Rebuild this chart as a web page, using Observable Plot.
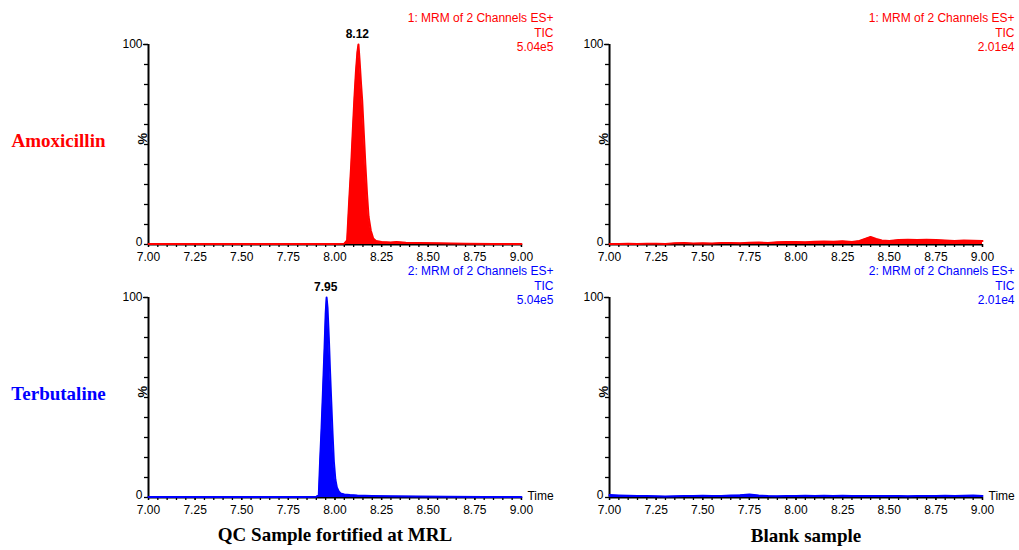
<!DOCTYPE html>
<html><head><meta charset="utf-8">
<script src="https://cdn.jsdelivr.net/npm/d3@7"></script>
<script src="https://cdn.jsdelivr.net/npm/@observablehq/plot@0.6"></script>
<style>html,body{margin:0;padding:0;background:#fff}#chart{width:1019px;height:550px}</style>
</head><body><div id="chart"></div>
<script>
// ---- categories & labels ----
const samples = ["QC Sample fortified at MRL", "Blank sample"];
const compounds = ["Amoxicillin", "Terbutaline"];
const compoundColors = ["#ff0000", "#0000ff"];
const channelLabels = ["1: MRM of 2 Channels ES+", "2: MRM of 2 Channels ES+"];
const ticLabel = "TIC";
const intensityLabels = ["5.04e5", "2.01e4"];   // per sample
const peakTimes = [8.12, 7.95];                  // per compound (QC sample)
const xMajorTicks = [7, 7.25, 7.5, 7.75, 8, 8.25, 8.5, 8.75, 9];
const yLabelTicks = [0, 100];
const yAxisSymbol = "%";
const xAxisTitle = "Time";

// ---- series (retention time, relative intensity %) ----
const qcAmoxTime  = [7.00, 7.25, 7.50, 7.75, 7.90, 8.00, 8.05, 8.065, 8.075, 8.087, 8.096, 8.104, 8.112, 8.120, 8.126, 8.132, 8.140, 8.146, 8.155, 8.163, 8.172, 8.180, 8.192, 8.205, 8.22, 8.25, 8.30, 8.33, 8.38, 8.45, 8.55, 8.70, 8.85, 9.00];
const qcAmoxValue = [0.3, 0.3, 0.3, 0.3, 0.3, 0.3, 0.4, 2, 20, 40, 58, 73, 86, 96, 100, 92, 80, 72, 55, 40, 25, 14, 7, 3, 1.8, 1.2, 1.0, 1.3, 0.9, 0.8, 0.6, 0.4, 0.3, 0.3];

const qcTerbTime  = [7.00, 7.25, 7.50, 7.75, 7.85, 7.90, 7.913, 7.920, 7.928, 7.935, 7.944, 7.950, 7.955, 7.960, 7.967, 7.974, 7.980, 7.987, 7.994, 8.002, 8.010, 8.020, 8.030, 8.05, 8.08, 8.12, 8.20, 8.30, 8.45, 8.60, 8.80, 9.00];
const qcTerbValue = [0.3, 0.3, 0.3, 0.3, 0.3, 0.4, 1, 18, 35, 52, 75, 92, 100, 95, 80, 62, 48, 32, 18, 9, 5, 3, 2, 1.5, 1.2, 1.0, 0.8, 0.6, 0.5, 0.4, 0.3, 0.3];

const blankAmoxTime  = [7.00, 7.05, 7.10, 7.15, 7.20, 7.25, 7.30, 7.35, 7.40, 7.45, 7.50, 7.55, 7.60, 7.65, 7.70, 7.75, 7.80, 7.85, 7.90, 7.95, 8.00, 8.05, 8.10, 8.15, 8.20, 8.25, 8.30, 8.34, 8.37, 8.40, 8.43, 8.46, 8.50, 8.55, 8.60, 8.65, 8.70, 8.75, 8.80, 8.85, 8.90, 8.95, 9.00];
const blankAmoxValue = [0.3, 0.3, 0.4, 0.3, 0.4, 0.4, 0.3, 0.6, 0.8, 0.5, 0.6, 0.5, 0.7, 0.8, 0.6, 0.9, 1.0, 0.8, 1.1, 1.3, 1.2, 1.1, 1.4, 1.5, 1.4, 1.6, 1.2, 1.8, 2.8, 3.8, 2.8, 2.0, 1.8, 2.2, 2.4, 2.3, 2.4, 2.2, 2.0, 1.8, 2.0, 1.9, 1.8];

const blankTerbTime  = [7.00, 7.05, 7.10, 7.15, 7.20, 7.25, 7.30, 7.35, 7.40, 7.45, 7.50, 7.55, 7.60, 7.65, 7.70, 7.75, 7.80, 7.85, 7.90, 7.95, 8.00, 8.05, 8.10, 8.15, 8.20, 8.25, 8.30, 8.35, 8.40, 8.45, 8.50, 8.55, 8.60, 8.65, 8.70, 8.75, 8.80, 8.85, 8.90, 8.95, 9.00];
const blankTerbValue = [1.2, 1.0, 0.9, 0.8, 0.7, 0.6, 0.5, 0.6, 0.8, 0.7, 0.9, 0.7, 0.8, 1.0, 1.1, 1.5, 1.0, 0.7, 0.6, 0.7, 0.8, 0.9, 0.8, 0.9, 0.8, 0.9, 0.8, 0.7, 0.8, 0.7, 0.8, 0.7, 0.6, 0.8, 0.7, 0.8, 0.9, 0.8, 0.9, 1.0, 0.8];

// ---- build tables ----
const seriesDefs = [
  {sample: samples[0], compound: compounds[0], t: qcAmoxTime, v: qcAmoxValue},
  {sample: samples[0], compound: compounds[1], t: qcTerbTime, v: qcTerbValue},
  {sample: samples[1], compound: compounds[0], t: blankAmoxTime, v: blankAmoxValue},
  {sample: samples[1], compound: compounds[1], t: blankTerbTime, v: blankTerbValue}
];
const rows = seriesDefs.flatMap(s => s.t.map((t, i) => ({sample: s.sample, compound: s.compound, key: s.sample + "|" + s.compound, t, v: s.v[i]})));

const headerRows = [];
samples.forEach((s, si) => compounds.forEach((c, ci) => headerRows.push({
  sample: s, compound: c, text: channelLabels[ci] + "\n" + ticLabel + "\n" + intensityLabels[si]
})));
const peakRows = compounds.map((c, ci) => ({sample: samples[0], compound: c, t: peakTimes[ci], v: 100}));
const rowLabelRows = compounds.map(c => ({sample: samples[0], compound: c}));
const timeRows = samples.map(s => ({sample: s, compound: compounds[1]}));

const xMinorTicks = d3.range(7, 9.0001, 0.05);
const yMinorTicks = d3.range(0, 100.001, 10);
const fmt2 = d3.format(".2f");
const F = {fx: "sample", fy: "compound"};
const serif = "'Liberation Serif', 'Times New Roman', serif";

const chart = Plot.plot({
  width: 1019, height: 550,
  marginLeft: 148, marginRight: 37, marginTop: 44, marginBottom: 53,
  style: {fontFamily: "'Liberation Sans', Arial, sans-serif", fontSize: "12px", background: "#fff", color: "#000", overflow: "visible"},
  fx: {domain: samples, paddingInner: 0.191, paddingOuter: 0, round: false, axis: null, label: null},
  fy: {domain: compounds, paddingInner: 0.2095, paddingOuter: 0, round: false, axis: null, label: null},
  x: {domain: [7, 9], label: null},
  y: {domain: [0, 100], label: null},
  color: {domain: compounds, range: compoundColors},
  marks: [
    Plot.axisY({ticks: yMinorTicks, tickSize: 4, fill: "none", label: null, strokeWidth: 1.3, facetAnchor: null}),
    Plot.axisY({ticks: [yLabelTicks[1]], tickSize: 5, tickPadding: 1, label: null, strokeWidth: 1.3, facetAnchor: null}),
    Plot.text([yLabelTicks[0]], {x: () => 7, y: d => d, text: d => String(d), textAnchor: "end", dx: -6, dy: -2, fontSize: 12}),
    Plot.axisX({ticks: xMinorTicks, tickSize: 3, fill: "none", label: null, strokeWidth: 1.3, facetAnchor: null}),
    Plot.axisX({ticks: xMajorTicks, tickSize: 3, tickPadding: 5, tickFormat: fmt2, label: null, strokeWidth: 1.3, facetAnchor: null}),
    Plot.ruleX([7], {stroke: "#000", strokeWidth: 2}),
    Plot.ruleY([0], {stroke: "#000", strokeWidth: 2}),
    Plot.areaY(rows, {...F, x: "t", y: "v", z: "key", fill: "compound", curve: "linear"}),
    Plot.lineY(rows, {...F, x: "t", y: "v", z: "key", stroke: "compound", strokeWidth: 2, curve: "linear"}),
    Plot.text(peakRows, {...F, x: "t", y: "v", text: d => fmt2(d.t), dy: -7, lineAnchor: "bottom", fontWeight: "bold", fontSize: 12}),
    Plot.text(headerRows, {...F, text: "text", fill: "compound", frameAnchor: "top-right", textAnchor: "end", lineAnchor: "top", dx: 32, dy: -32, lineHeight: 1.17, fontSize: 12}),
    Plot.text([yAxisSymbol], {text: d => d, frameAnchor: "left", dx: -6, rotate: -90, fontWeight: "bold", fontSize: 13}),
    Plot.text(timeRows, {...F, text: () => xAxisTitle, frameAnchor: "bottom-right", textAnchor: "start", dx: 6, dy: 2, fontSize: 12}),
    Plot.text(rowLabelRows, {...F, text: "compound", fill: "compound", frameAnchor: "left", textAnchor: "middle", dx: -90, dy: -4, fontFamily: serif, fontWeight: "bold", fontSize: 19}),
    Plot.text([{sample: samples[0], compound: compounds[1]}], {...F, text: "sample", fill: "#000", frameAnchor: "bottom", textAnchor: "middle", dy: 43, fontFamily: serif, fontWeight: "bold", fontSize: 19}),
    Plot.text([{sample: samples[1], compound: compounds[1]}], {...F, text: "sample", fill: "#000", frameAnchor: "bottom", textAnchor: "middle", dx: 10, dy: 44, fontFamily: serif, fontWeight: "bold", fontSize: 19})
  ]
});
document.getElementById("chart").appendChild(chart);
</script>
</body></html>
